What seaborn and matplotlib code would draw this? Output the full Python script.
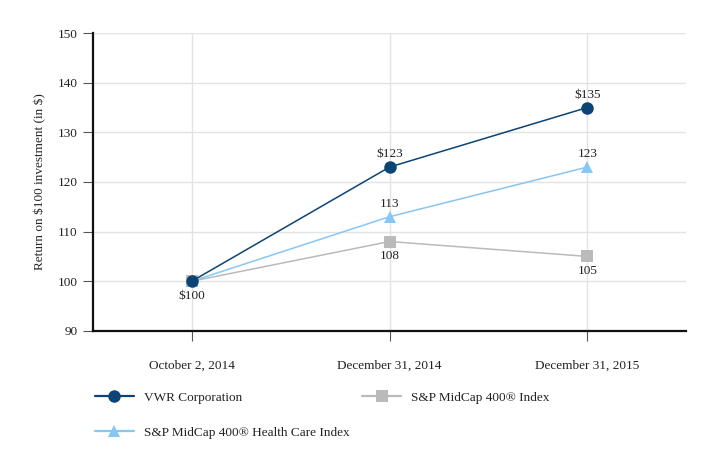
import numpy as np
import pandas as pd
import matplotlib
matplotlib.use('Agg')
import matplotlib.pyplot as plt
import seaborn as sns

# Data
dates = ['October 2, 2014', 'December 31, 2014', 'December 31, 2015']
vwr = [100, 123, 135]
midcap = [100, 108, 105]
health = [100, 113, 123]

series_names = ['VWR Corporation', 'S&P MidCap 400® Index', 'S&P MidCap 400® Health Care Index']
colors = {'VWR Corporation': '#0b4475',
          'S&P MidCap 400® Index': '#bababa',
          'S&P MidCap 400® Health Care Index': '#86c7f3'}
markers = {'VWR Corporation': 'o',
           'S&P MidCap 400® Index': 's',
           'S&P MidCap 400® Health Care Index': '^'}

rows = []
for name, vals in zip(series_names, [vwr, midcap, health]):
    for i, v in enumerate(vals):
        rows.append({'pos': i, 'date': dates[i], 'value': v, 'series': name})
df = pd.DataFrame(rows)

sns.set_style('white')
plt.rcParams['font.family'] = ['Liberation Serif', 'DejaVu Serif']
plt.rcParams['text.parse_math'] = False

fig = plt.figure(figsize=(7.2, 4.66), dpi=100)
ax = fig.add_axes([0.129, 0.290, 0.824, 0.639])

# gray first, then light blue, navy on top
for name in ['S&P MidCap 400® Index', 'S&P MidCap 400® Health Care Index', 'VWR Corporation']:
    sub = df[df.series == name]
    sns.lineplot(data=sub, x='pos', y='value', color=colors[name], marker=markers[name],
                 markersize=9, markeredgewidth=0, linewidth=1.1, ax=ax,
                 label=name, legend=False)

# value labels
def lab(x, y, text, above):
    ax.annotate(text, (x, y), xytext=(0, 5 if above else -6), textcoords='offset points',
                ha='center', va='bottom' if above else 'top', fontsize=9.5, color='#222222')

lab(0, vwr[0], '$100', False)
lab(1, vwr[1], '$123', True)
lab(2, vwr[2], '$135', True)
lab(1, health[1], '113', True)
lab(2, health[2], '123', True)
lab(1, midcap[1], '108', False)
lab(2, midcap[2], '105', False)

ax.set_xlim(-0.5, 2.5)
ax.set_ylim(90, 150)
ax.set_yticks(np.arange(90, 151, 10))
ax.set_xticks(range(len(dates)))
ax.set_xticklabels(dates)
ax.set_xlabel('')
ax.set_ylabel('Return on $100 investment (in $)', fontsize=9.5, labelpad=8)
ax.grid(True, color='#e3e3e3', linewidth=1)
ax.set_axisbelow(True)
for s in ['top', 'right']:
    ax.spines[s].set_visible(False)
for s in ['left', 'bottom']:
    ax.spines[s].set_color('#111111')
    ax.spines[s].set_linewidth(1.6)
ax.tick_params(axis='both', which='major', length=7, width=0.8, color='#555555',
               labelsize=9.5, labelcolor='#222222', direction='out', bottom=True, left=True)
ax.tick_params(axis='x', pad=14)
ax.tick_params(axis='y', pad=4)

# legend: two columns that overlap horizontally, so two legends
handles, labels = ax.get_legend_handles_labels()
hmap = dict(zip(labels, handles))
leg_kw = dict(loc='upper left', frameon=False, fontsize=9.5, handlelength=3.0,
              labelspacing=1.7, handletextpad=0.75, labelcolor='#222222', markerscale=1.0)
col1 = ['VWR Corporation', 'S&P MidCap 400® Health Care Index']
col2 = ['S&P MidCap 400® Index']
leg1 = fig.legend([hmap[o] for o in col1], col1, bbox_to_anchor=(0.115, 0.185), **leg_kw)
leg2 = fig.legend([hmap[o] for o in col2], col2, bbox_to_anchor=(0.486, 0.185), **leg_kw)
for leg in (leg1, leg2):
    for h in leg.legend_handles:
        h.set_linewidth(1.6)

fig.savefig('out.png', dpi=100)
